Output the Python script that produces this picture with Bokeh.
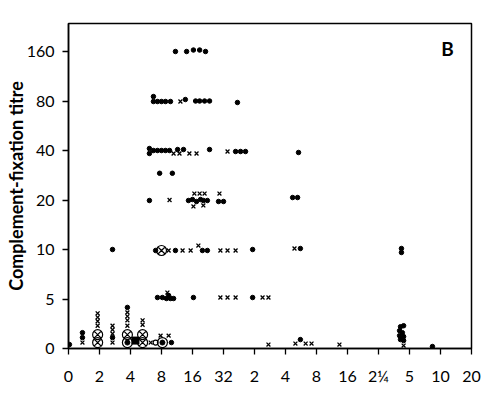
from bokeh.plotting import figure
from bokeh.models import Range1d, FixedTicker, Label
from bokeh.embed import file_html
from bokeh.resources import INLINE

# x positions on the equally spaced time axis (tick index 0..13)
x_tick_labels = ["0", "2", "4", "8", "16", "32", "2", "4", "8", "16", "2¼", "5", "10", "20"]
# y positions on the titre scale (tick index 0..6)
y_tick_labels = ["0", "5", "10", "20", "40", "80", "160"]

dot_x = [3.45, 3.81, 4.03, 4.23, 4.42,
         2.74, 2.74, 2.87, 3.0, 3.13, 3.29, 3.77, 4.10, 4.23, 4.39, 4.55, 5.45,
         2.61, 2.61, 2.74, 2.87, 3.0, 3.13, 3.26, 3.52, 3.71, 4.55, 5.39, 5.55, 5.71, 7.42,
         2.94, 3.35,
         2.61, 3.87, 4.0, 4.13, 4.26, 4.35, 4.48, 4.84, 5.0, 7.23, 7.39,
         1.42, 2.81, 3.45, 4.32, 4.48, 5.94, 7.48, 10.74, 10.74,
         2.87, 3.03, 3.16, 3.23, 3.29, 3.39, 4.03, 5.94,
         0.03, 0.45, 0.45, 1.42, 1.90, 3.32, 7.48,
         10.71, 10.81, 10.68, 10.77, 10.68, 10.81, 10.71, 10.81,
         11.74]
dot_y = [6.0, 6.0, 6.03, 6.03, 6.0,
         5.09, 4.99, 4.99, 4.99, 4.99, 4.99, 5.03, 5.0, 5.0, 5.0, 5.0, 4.97,
         4.04, 3.94, 4.0, 4.0, 4.0, 4.0, 4.0, 4.02, 4.02, 4.02, 3.98, 3.98, 3.98, 3.96,
         3.54, 3.54,
         2.99, 2.99, 3.01, 2.97, 3.01, 2.99, 2.99, 2.97, 2.97, 3.05, 3.05,
         2.0, 1.98, 1.98, 1.98, 1.98, 2.0, 2.02, 2.02, 1.94,
         1.03, 1.03, 1.01, 1.07, 1.01, 1.01, 1.03, 1.03,
         0.08, 0.32, 0.22, 0.22, 0.83, 0.12, 0.18,
         0.44, 0.46, 0.36, 0.32, 0.26, 0.24, 0.18, 0.16,
         0.04]

cross_x = [3.61,
           3.39, 3.58, 3.90, 4.13, 5.13,
           3.26, 4.06, 4.23, 4.39, 4.03, 4.35, 4.87,
           3.23, 3.68, 3.94, 4.19, 4.90, 5.13, 5.39, 7.29,
           3.19, 4.90, 5.13, 5.39, 6.26, 6.45,
           0.45, 0.94, 0.94, 0.94, 0.94, 1.42, 1.42, 1.42, 1.42,
           1.90, 1.90, 1.90, 1.90, 2.39, 2.39, 2.65, 2.97, 3.23,
           6.45, 7.32, 7.65, 7.84, 8.74, 10.81]
cross_y = [4.99,
           3.94, 3.94, 3.94, 3.94, 3.98,
           3.0, 3.13, 3.13, 3.13, 2.87, 2.89, 3.13,
           1.98, 1.98, 1.98, 2.08, 1.98, 1.98, 1.98, 2.02,
           1.13, 1.03, 1.03, 1.03, 1.03, 1.03,
           0.12, 0.71, 0.63, 0.55, 0.46, 0.46, 0.38, 0.30, 0.12,
           0.73, 0.65, 0.57, 0.46, 0.57, 0.48, 0.12, 0.26, 0.26,
           0.08, 0.10, 0.10, 0.10, 0.08, 0.06]

circx_x = [3.0, 0.94, 0.94, 1.90, 2.39, 2.39]
circx_y = [1.98, 0.28, 0.12, 0.28, 0.28, 0.12]

circdot_x = [1.90, 3.03]
circdot_y = [0.12, 0.12]

ring_x = [2.81]
ring_y = [0.12]

block_x = [2.16]
block_y = [0.16]

FONT = "Lato"

p = figure(width=486, height=393, output_backend="svg", toolbar_location=None,
           x_range=Range1d(0, 13), y_range=Range1d(0, 6.566),
           min_border_left=68, min_border_right=15, min_border_top=23, min_border_bottom=45)
p.background_fill_color = "white"
p.border_fill_color = "white"
p.xgrid.visible = False
p.ygrid.visible = False
p.outline_line_color = "black"
p.outline_line_width = 1.5

p.xaxis.ticker = FixedTicker(ticks=list(range(len(x_tick_labels))))
p.xaxis.major_label_overrides = {i: t for i, t in enumerate(x_tick_labels)}
p.yaxis.ticker = FixedTicker(ticks=list(range(len(y_tick_labels))))
p.yaxis.major_label_overrides = {i: t for i, t in enumerate(y_tick_labels)}

for ax in (p.xaxis, p.yaxis):
    ax.axis_line_color = "black"
    ax.axis_line_width = 1.5
    ax.major_tick_line_color = "black"
    ax.major_tick_line_width = 1.3
    ax.major_tick_in = 0
    ax.major_tick_out = 6
    ax.minor_tick_line_color = None
    ax.major_label_text_font = FONT
    ax.major_label_text_font_size = "16px"
    ax.major_label_text_color = "black"
p.xaxis.major_label_standoff = 11
p.yaxis.major_label_standoff = 8

p.yaxis.axis_label = "Complement-fixation titre"
p.yaxis.axis_label_text_font = FONT
p.yaxis.axis_label_text_font_size = "18px"
p.yaxis.axis_label_text_font_style = "bold"
p.yaxis.axis_label_text_color = "black"
p.yaxis.axis_label_standoff = -3

p.scatter(dot_x, dot_y, marker="circle", size=4.5, fill_color="black", line_color="black")
p.scatter(block_x, block_y, marker="square", size=7, fill_color="black", line_color="black")
p.scatter(cross_x, cross_y, marker="x", size=5.5, line_color="black", line_width=1.3)
p.scatter(circx_x, circx_y, marker="circle_x", size=10, fill_color=None, line_color="black", line_width=1.2)
p.scatter(circdot_x, circdot_y, marker="circle", size=10, fill_color=None, line_color="black", line_width=1.2)
p.scatter(circdot_x, circdot_y, marker="circle", size=5, fill_color="black", line_color="black")
p.scatter(ring_x, ring_y, marker="circle", size=5, fill_color=None, line_color="black", line_width=1.2)

p.add_layout(Label(x=12.23, y=6.06, text="B", text_font=FONT, text_font_style="bold",
                   text_font_size="19px", text_align="center", text_baseline="middle",
                   text_color="black"))

open("out.html", "w").write(file_html(p, INLINE))
